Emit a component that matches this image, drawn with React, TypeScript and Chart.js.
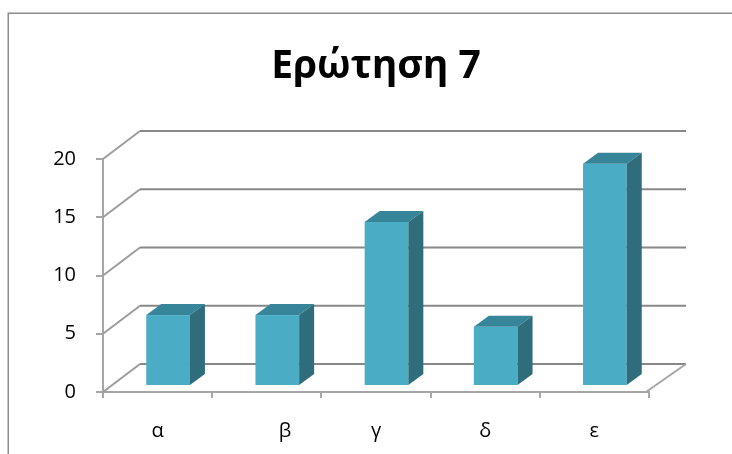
import React, { useEffect, useRef } from "react";
import { Chart, registerables } from "chart.js";

Chart.register(...registerables);

const title = "Ερώτηση 7";
const categories = ["α", "       β", "γ", "δ", "ε"];
const values = [6, 6, 14, 5, 19];
const yMin = 0;
const yMax = 20;
const yStep = 5;

const FRONT = "#4BACC6";
const TOP = "#378599";
const SIDE = "#2F6D7C";

const threeD = {
  id: "threeD",
  beforeDraw(chart: any) {
    const { ctx, width, height } = chart;
    ctx.save();
    ctx.fillStyle = "#ffffff";
    ctx.fillRect(0, 0, width, height);
    ctx.strokeStyle = "#8c8c8c";
    ctx.lineWidth = 1.5;
    ctx.strokeRect(8.25, 13.25, width + 20, height + 20);
    ctx.restore();
  },
  beforeDatasetsDraw(chart: any) {
    const { ctx, chartArea: a, scales } = chart;
    const y = scales.y;
    const DX = 37;
    const DY = -28;
    ctx.save();
    ctx.lineCap = "butt";
    y.ticks.forEach((t: any) => {
      const py = y.getPixelForValue(t.value);
      ctx.strokeStyle = "#9c9c9c";
      ctx.lineWidth = 2;
      ctx.beginPath();
      ctx.moveTo(a.left, py);
      ctx.lineTo(a.left + DX, py + DY);
      ctx.stroke();
      ctx.strokeStyle = "#888888";
      ctx.beginPath();
      ctx.moveTo(a.left + DX, py + DY);
      ctx.lineTo(a.right + DX, py + DY);
      ctx.stroke();
    });
    const y0 = y.getPixelForValue(0);
    ctx.strokeStyle = "#a6a6a6";
    ctx.beginPath();
    ctx.moveTo(a.right - 3, y0);
    ctx.lineTo(a.right + DX, y0 + DY);
    ctx.stroke();
    ctx.restore();
  },
  afterDatasetsDraw(chart: any) {
    const { ctx, scales } = chart;
    const y = scales.y;
    const meta = chart.getDatasetMeta(0);
    const fx = 10.5;
    const fy = -7;
    const dx = 15;
    const dy = -11;
    ctx.save();
    meta.data.forEach((el: any, i: number) => {
      const w = el.width;
      const x0 = el.x - w / 2 + fx;
      const x1 = x0 + w;
      const yt = y.getPixelForValue(values[i]) + fy;
      const yb = y.getPixelForValue(0) + fy;
      ctx.fillStyle = FRONT;
      ctx.fillRect(x0, yt, w, yb - yt);
      ctx.fillStyle = TOP;
      ctx.beginPath();
      ctx.moveTo(x0, yt);
      ctx.lineTo(x1, yt);
      ctx.lineTo(x1 + dx, yt + dy);
      ctx.lineTo(x0 + dx, yt + dy);
      ctx.closePath();
      ctx.fill();
      ctx.fillStyle = SIDE;
      ctx.beginPath();
      ctx.moveTo(x1, yt);
      ctx.lineTo(x1 + dx, yt + dy);
      ctx.lineTo(x1 + dx, yb + dy);
      ctx.lineTo(x1, yb);
      ctx.closePath();
      ctx.fill();
    });
    ctx.restore();
  },
};

export default function App() {
  const ref = useRef<HTMLCanvasElement | null>(null);
  useEffect(() => {
    document.body.style.margin = "0";
    if (!ref.current) return;
    const chart = new Chart(ref.current, {
      type: "bar",
      data: {
        labels: categories,
        datasets: [
          {
            data: values,
            backgroundColor: "rgba(0,0,0,0)",
            borderWidth: 0,
            categoryPercentage: 0.8,
            barPercentage: 0.5,
          },
        ],
      },
      options: {
        animation: false,
        responsive: false,
        events: [],
        layout: { padding: { left: 0, right: 83, top: 0, bottom: 0 } },
        plugins: {
          legend: { display: false },
          tooltip: { enabled: false },
          title: {
            display: true,
            fullSize: false,
            text: title,
            color: "#000000",
            font: { family: "'Open Sans'", size: 39, weight: "bold", lineHeight: 1.2 },
            padding: { top: 43, bottom: 69.2 },
          },
        },
        scales: {
          x: {
            afterFit: (s: any) => {
              s.height = 62;
            },
            grid: {
              display: true,
              offset: true,
              drawOnChartArea: false,
              drawTicks: true,
              tickLength: 6,
              color: "#a6a6a6",
              lineWidth: 2,
            },
            border: { display: true, color: "#a6a6a6", width: 2 },
            ticks: {
              color: "#000000",
              font: { family: "'Open Sans'", size: 20 },
              padding: 21,
              maxRotation: 0,
              autoSkip: false,
            },
          },
          y: {
            min: yMin,
            max: yMax,
            afterFit: (s: any) => {
              s.width = 103;
            },
            grid: {
              display: true,
              drawOnChartArea: false,
              drawTicks: true,
              tickLength: 7,
              color: "#a6a6a6",
              lineWidth: 2,
            },
            border: { display: true, color: "#a6a6a6", width: 2 },
            ticks: {
              stepSize: yStep,
              color: "#000000",
              font: { family: "'Open Sans'", size: 20 },
              padding: 20,
            },
          },
        },
      },
      plugins: [threeD],
    });
    return () => chart.destroy();
  }, []);
  return (
    <div style={{ width: 732, height: 454 }}>
      <canvas ref={ref} width={732} height={454} style={{ display: "block" }} />
    </div>
  );
}
